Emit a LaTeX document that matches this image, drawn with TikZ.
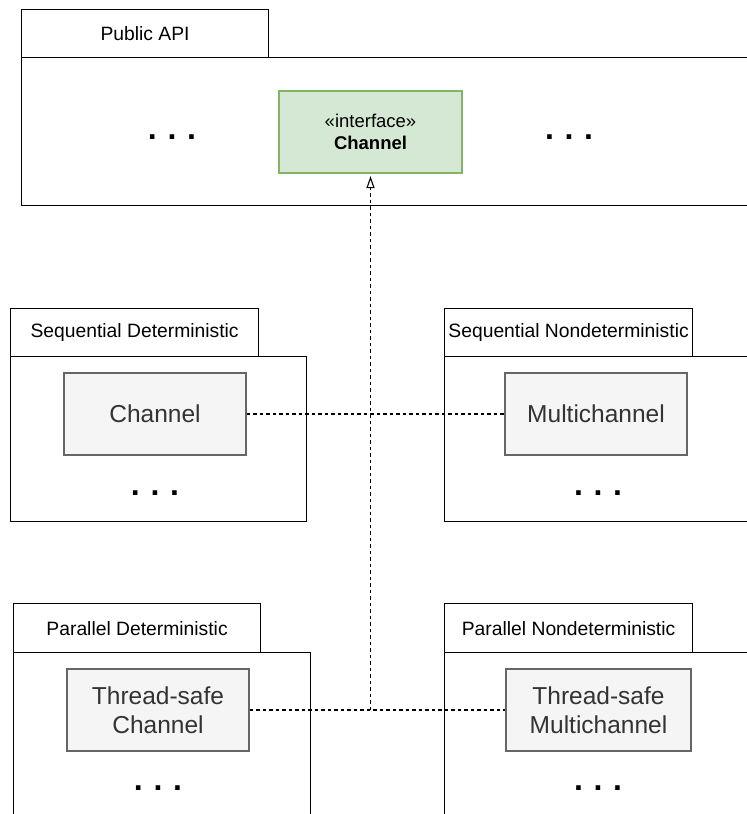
\documentclass[tikz,border=0pt]{standalone}
\usepackage{fontspec}
\setmainfont{Liberation Sans}
\usetikzlibrary{arrows.meta}
\definecolor{gfill}{HTML}{D5E8D4}
\definecolor{gline}{HTML}{82B366}
\definecolor{cfill}{HTML}{F5F5F5}
\definecolor{cline}{HTML}{666666}
\definecolor{ctext}{HTML}{333333}
\tikzset{
  pkgtab/.style={draw=black, line width=1.2pt, anchor=north west, inner sep=0pt,
    font=\fontsize{19.3}{22}\selectfont},
  pkgbody/.style={draw=black, line width=1.2pt, anchor=north west, inner sep=0pt},
  clsbox/.style={draw=cline, fill=cfill, line width=1.2pt, inner sep=0pt,
    minimum width=182pt, minimum height=82pt, text=ctext, align=center,
    font=\fontsize{24.5}{29}\selectfont},
  ifbox/.style={draw=gline, fill=gfill, line width=1.2pt, inner sep=0pt,
    minimum width=183pt, minimum height=82pt, align=center,
    font=\fontsize{18.5}{22}\selectfont},
  dots/.style={inner sep=0pt, font=\fontsize{32}{32}\selectfont\bfseries},
  conn/.style={draw=black, line width=1.2pt, dash pattern=on 3.5pt off 3pt},
}
\begin{document}
\begin{tikzpicture}[x=1pt,y=-1pt]
\useasboundingbox (0,0) rectangle (747,814);
\begin{scope}
\clip (0,0) rectangle (747,814);
% Public API
\node[pkgtab, minimum width=247pt, minimum height=48pt] (pubtab) at (21,9) {Public API};
\node[pkgbody, minimum width=740pt, minimum height=148pt] (pubbody) at (21,57) {};
\node[ifbox] (iface) at (370.5,132) {«interface»\\\textbf{Channel}};
\node[dots] (pubdl) at (172,137) {.\,\,.\,\,.};
\node[dots] (pubdr) at (569,137) {.\,\,.\,\,.};
% Sequential Deterministic
\node[pkgtab, minimum width=248pt, minimum height=48pt] (sdtab) at (10,308) {Sequential Deterministic};
\node[pkgbody, minimum width=296pt, minimum height=165pt] (sdbody) at (10,356) {};
\node[clsbox] (ch) at (155,414) {Channel};
\node[dots] (sddots) at (155,493) {.\,\,.\,\,.};
% Sequential Nondeterministic
\node[pkgtab, minimum width=248pt, minimum height=48pt] (sntab) at (444,308) {Sequential Nondeterministic};
\node[pkgbody, minimum width=320pt, minimum height=165pt] (snbody) at (444,356) {};
\node[clsbox] (mch) at (596,414) {Multichannel};
\node[dots] (sndots) at (598,493) {.\,\,.\,\,.};
% Parallel Deterministic
\node[pkgtab, minimum width=247pt, minimum height=49pt] (pdtab) at (13,603) {Parallel Deterministic};
\node[pkgbody, minimum width=297pt, minimum height=180pt] (pdbody) at (13,652) {};
\node[clsbox] (tsch) at (158,710) {Thread-safe\\Channel};
\node[dots] (pddots) at (158,788) {.\,\,.\,\,.};
% Parallel Nondeterministic
\node[pkgtab, minimum width=248pt, minimum height=49pt] (pntab) at (444,603) {Parallel Nondeterministic};
\node[pkgbody, minimum width=320pt, minimum height=180pt] (pnbody) at (444,652) {};
\node[clsbox, minimum width=185pt] (tsmch) at (598.5,710) {Thread-safe\\Multichannel};
\node[dots] (pndots) at (598,788) {.\,\,.\,\,.};
\end{scope}
% connectors
\coordinate (j) at (iface.south |- tsch.east);
\draw[conn] (ch.east) -- (mch.west);
\draw[conn] (tsch.east) -- (tsmch.west);
\draw[conn, -{Triangle[open, length=12pt, width=8pt, line width=1.1pt]}, shorten >=2.5pt] (j) -- (iface.south);
\end{tikzpicture}
\end{document}
